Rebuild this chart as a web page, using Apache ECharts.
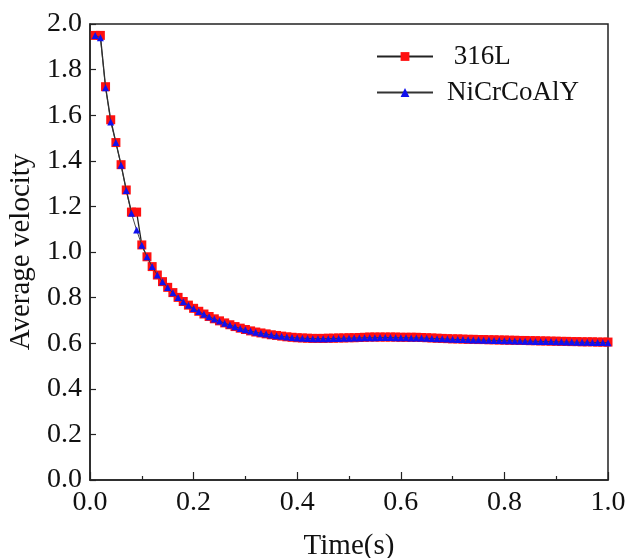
<!DOCTYPE html>
<html>
<head>
<meta charset="utf-8">
<script src="https://cdn.jsdelivr.net/npm/echarts@6/dist/echarts.min.js"></script>
<style>html,body{margin:0;padding:0;background:#fff;}#c{width:628px;height:558px;}</style>
</head>
<body>
<div id="c"></div>
<script>
var times = [0.01,0.02,0.03,0.04,0.05,0.06,0.07,0.08,0.09,0.10,
0.11,0.12,0.13,0.14,0.15,0.16,0.17,0.18,0.19,0.20,
0.21,0.22,0.23,0.24,0.25,0.26,0.27,0.28,0.29,0.30,
0.31,0.32,0.33,0.34,0.35,0.36,0.37,0.38,0.39,0.40,
0.41,0.42,0.43,0.44,0.45,0.46,0.47,0.48,0.49,0.50,
0.51,0.52,0.53,0.54,0.55,0.56,0.57,0.58,0.59,0.60,
0.61,0.62,0.63,0.64,0.65,0.66,0.67,0.68,0.69,0.70,
0.71,0.72,0.73,0.74,0.75,0.76,0.77,0.78,0.79,0.80,
0.81,0.82,0.83,0.84,0.85,0.86,0.87,0.88,0.89,0.90,
0.91,0.92,0.93,0.94,0.95,0.96,0.97,0.98,0.99,1.00];

var v316L = [1.95,1.95,1.725,1.58,1.48,1.383,1.272,1.175,1.175,1.031,
0.979,0.936,0.899,0.870,0.845,0.822,0.801,0.783,0.767,0.753,
0.740,0.728,0.717,0.707,0.698,0.689,0.681,0.673,0.666,0.660,
0.654,0.649,0.645,0.641,0.637,0.634,0.631,0.628,0.626,0.624,
0.623,0.622,0.621,0.621,0.621,0.622,0.622,0.623,0.623,0.624,
0.624,0.625,0.626,0.627,0.627,0.627,0.627,0.627,0.627,0.626,
0.626,0.626,0.626,0.625,0.624,0.623,0.622,0.621,0.620,0.619,
0.619,0.618,0.617,0.617,0.616,0.616,0.615,0.615,0.614,0.614,
0.613,0.613,0.612,0.612,0.611,0.611,0.610,0.610,0.609,0.609,
0.608,0.608,0.607,0.607,0.606,0.606,0.606,0.605,0.605,0.605];

var vNiCrCoAlY = [1.95,1.94,1.72,1.57,1.48,1.38,1.27,1.17,1.096,1.03,
0.979,0.936,0.899,0.869,0.844,0.821,0.800,0.782,0.766,0.752,
0.739,0.727,0.716,0.706,0.697,0.688,0.680,0.672,0.665,0.659,
0.653,0.648,0.644,0.640,0.636,0.633,0.630,0.627,0.625,0.623,
0.622,0.621,0.620,0.620,0.620,0.620,0.621,0.621,0.622,0.622,
0.623,0.623,0.624,0.624,0.624,0.625,0.625,0.625,0.624,0.624,
0.624,0.623,0.623,0.623,0.622,0.621,0.620,0.619,0.618,0.617,
0.616,0.616,0.615,0.614,0.614,0.613,0.613,0.612,0.612,0.611,
0.611,0.610,0.610,0.609,0.609,0.608,0.608,0.607,0.607,0.606,
0.606,0.605,0.605,0.604,0.604,0.604,0.603,0.603,0.603,0.602];

var xTicks = ['0.0','0.2','0.4','0.6','0.8','1.0'];

function pairs(xs, ys){ var out=[]; for(var i=0;i<xs.length;i++) out.push([xs[i], ys[i]]); return out; }

var FONT = '"Liberation Serif", "Times New Roman", serif';
var chart = echarts.init(document.getElementById('c'), null, {renderer:'canvas'});
chart.setOption({
  animation: false,
  backgroundColor: '#fff',
  grid: {left: 90, right: 20, top: 24, bottom: 78, containLabel: false, outerBoundsMode: 'none',
    show: true, borderColor: '#222', borderWidth: 1.5, backgroundColor: 'transparent'},
  legend: {
    left: 371, top: 38, orient: 'vertical', itemWidth: 56, itemHeight: 11, itemGap: 9,
    textStyle: {fontFamily: FONT, fontSize: 27, color: '#111', padding: [0,0,0,9]},
    data: [' 316L', 'NiCrCoAlY']
  },
  xAxis: {
    type: 'value', min: 0, max: 1, interval: 0.2,
    axisLine: {show: true, lineStyle: {color: '#222', width: 1.5}},
    axisTick: {show: true, inside: true, length: 8, lineStyle: {color: '#222', width: 1.2}},
    minorTick: {show: true, splitNumber: 2, length: 4, lineStyle: {color: '#222', width: 1.2}},
    splitLine: {show: false},
    axisLabel: {fontFamily: FONT, fontSize: 28, color: '#111', margin: 9,
      formatter: function(v){ var i = Math.round(v/0.2); return xTicks[i] !== undefined ? xTicks[i] : ''; }},
    name: 'Time(s)', nameLocation: 'middle', nameGap: 52,
    nameTextStyle: {fontFamily: FONT, fontSize: 29, color: '#111'}
  },
  yAxis: {
    type: 'value', min: 0, max: 2, interval: 0.2,
    axisLine: {show: true, lineStyle: {color: '#222', width: 1.5}},
    axisTick: {show: true, inside: true, length: 6, lineStyle: {color: '#222', width: 1.2}},
    splitLine: {show: false},
    axisLabel: {fontFamily: FONT, fontSize: 28, color: '#111', margin: 8,
      formatter: function(v){ return v.toFixed(1); }},
    name: 'Average velocity', nameLocation: 'middle', nameGap: 53,
    nameTextStyle: {fontFamily: FONT, fontSize: 29, color: '#111'}
  },
  series: [
    {
      name: ' 316L', type: 'line', data: pairs(times, v316L),
      symbol: 'rect', symbolSize: 9, showAllSymbol: true,
      lineStyle: {color: '#222', width: 1.3},
      itemStyle: {color: '#ff1010', borderWidth: 0},
      z: 2
    },
    {
      name: 'NiCrCoAlY', type: 'line', data: pairs(times, vNiCrCoAlY),
      symbol: 'triangle', symbolSize: 7, showAllSymbol: true,
      lineStyle: {color: '#333', width: 0.9},
      itemStyle: {color: '#1010ee', borderWidth: 0},
      z: 3
    }
  ]
});
</script>
</body>
</html>
